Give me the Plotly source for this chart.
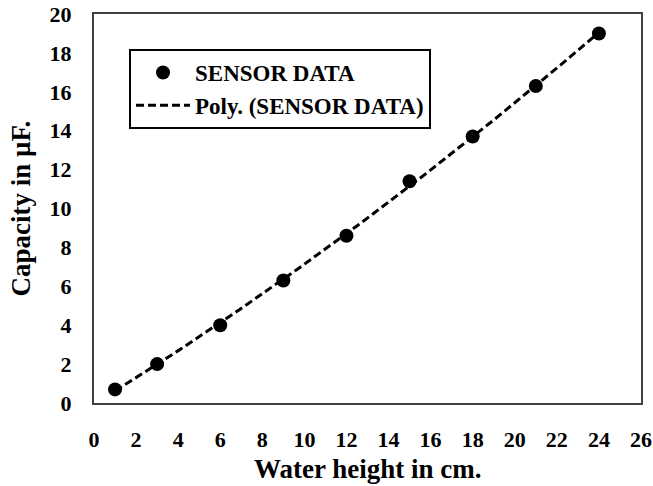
import numpy as np
import plotly.graph_objects as go

water_height = [1, 3, 6, 9, 12, 15, 18, 21, 24]
capacity = [0.7, 2.0, 4.0, 6.3, 8.6, 11.4, 13.7, 16.3, 19.0]
x_ticks = list(range(0, 27, 2))
y_ticks = list(range(0, 21, 2))

coef = np.polyfit(water_height, capacity, 2)
fit_x = np.linspace(min(water_height), max(water_height), 200)
fit_y = np.polyval(coef, fit_x)

SERIF = "Liberation Serif, Times New Roman, serif"

fig = go.Figure()
fig.add_trace(go.Scatter(
    x=fit_x, y=fit_y, mode="lines", name="Poly. (SENSOR DATA)",
    line=dict(color="black", width=3, dash="8px,4px"),
))
fig.add_trace(go.Scatter(
    x=water_height, y=capacity, mode="markers", name="SENSOR DATA",
    marker=dict(color="black", size=14),
))

fig.update_layout(
    width=653, height=486,
    margin=dict(l=94, r=12, t=14, b=83),
    paper_bgcolor="white", plot_bgcolor="white",
    font=dict(family=SERIF, color="black"),
    showlegend=True,
    legend=dict(
        x=0.064, y=0.91, xanchor="left", yanchor="top",
        bordercolor="black", borderwidth=2, bgcolor="white",
        font=dict(family=SERIF, size=23, color="black", weight="bold"),
        traceorder="reversed", itemwidth=54,
        tracegroupgap=0,
    ),
    xaxis=dict(
        range=[0, 26], tickvals=x_ticks, showgrid=False, zeroline=False,
        showline=True, linecolor="#404040", linewidth=2, mirror=True,
        ticks="", ticklabelstandoff=16, automargin=False,
        tickfont=dict(family=SERIF, size=22, color="black", weight="bold"),
    ),
    yaxis=dict(
        range=[0, 20], tickvals=y_ticks, showgrid=False, zeroline=False,
        showline=True, linecolor="#404040", linewidth=2, mirror=True,
        ticks="", ticklabelstandoff=16, automargin=False,
        tickfont=dict(family=SERIF, size=22, color="black", weight="bold"),
    ),
    annotations=[
        dict(text="Water height in cm.", xref="paper", yref="paper",
             x=0.5, y=0, yshift=-66, xanchor="center", yanchor="middle",
             showarrow=False,
             font=dict(family=SERIF, size=27, color="black", weight="bold")),
        dict(text="Capacity in µF.", xref="paper", yref="paper",
             x=0, y=0.5, xshift=-74, textangle=-90,
             xanchor="center", yanchor="middle", showarrow=False,
             font=dict(family=SERIF, size=27, color="black", weight="bold")),
    ],
)

fig.write_html(
    "out.html",
    config={"displayModeBar": False},
    post_script="document.body.style.margin='0';document.body.style.overflow='hidden';",
)
